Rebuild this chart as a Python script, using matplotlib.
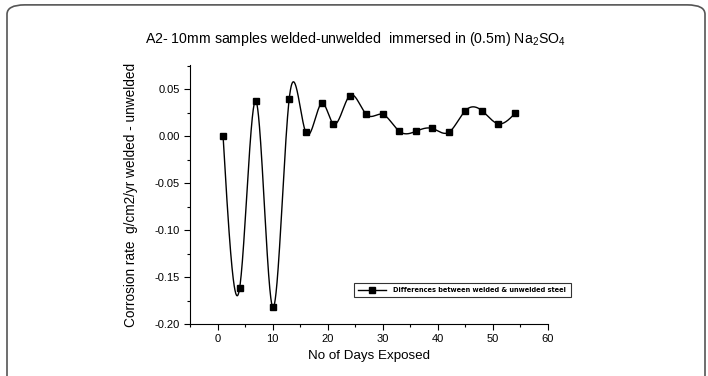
import numpy as np
import matplotlib
matplotlib.use("Agg")
import matplotlib.pyplot as plt
from matplotlib.patches import FancyBboxPatch
from matplotlib.lines import Line2D
from matplotlib.ticker import MultipleLocator, FormatStrFormatter

days = [1, 4, 7, 10, 13, 16, 19, 21, 24, 27, 30, 33, 36, 39, 42, 45, 48, 51, 54]
diff = [0.000, -0.162, 0.037, -0.182, 0.039, 0.004, 0.035, 0.013, 0.043, 0.023,
        0.023, 0.005, 0.005, 0.008, 0.004, 0.027, 0.027, 0.013, 0.024]

title = "A2- 10mm samples welded-unwelded  immersed in (0.5m) Na$_2$SO$_4$"
xlabel = "No of Days Exposed"
ylabel = "Corrosion rate  g/cm2/yr welded - unwelded"
legend_label = "Differences between welded & unwelded steel"


def natural_spline(x, y, n=1500):
    x = np.asarray(x, float)
    y = np.asarray(y, float)
    m = len(x)
    h = np.diff(x)
    A = np.zeros((m, m))
    b = np.zeros(m)
    A[0, 0] = 1
    A[-1, -1] = 1
    for i in range(1, m - 1):
        A[i, i - 1] = h[i - 1]
        A[i, i] = 2 * (h[i - 1] + h[i])
        A[i, i + 1] = h[i]
        b[i] = 3 * ((y[i + 1] - y[i]) / h[i] - (y[i] - y[i - 1]) / h[i - 1])
    c = np.linalg.solve(A, b)
    bb = (y[1:] - y[:-1]) / h - h * (2 * c[:-1] + c[1:]) / 3
    d = (c[1:] - c[:-1]) / (3 * h)
    xs = np.linspace(x[0], x[-1], n)
    idx = np.clip(np.searchsorted(x, xs) - 1, 0, m - 2)
    dx = xs - x[idx]
    ys = y[idx] + bb[idx] * dx + c[idx] * dx ** 2 + d[idx] * dx ** 3
    return xs, ys


plt.rcParams['font.family'] = ['Liberation Sans', 'DejaVu Sans']
plt.rcParams['mathtext.fontset'] = 'custom'
plt.rcParams['mathtext.rm'] = 'Liberation Sans'

fig = plt.figure(figsize=(7.08, 3.76), dpi=100)
ax = fig.add_axes([0.2684, 0.1383, 0.5056, 0.6887])

xs, ys = natural_spline(days, diff)
ax.plot(xs, ys, color='black', lw=1.0)
ax.plot(days, diff, 's', color='black', markersize=5, linestyle='none')

ax.set_xlim(-5, 60)
ax.set_ylim(-0.2, 0.0755)
ax.set_xticks([0, 10, 20, 30, 40, 50, 60])
ax.set_yticks([-0.20, -0.15, -0.10, -0.05, 0.00, 0.05])
ax.xaxis.set_minor_locator(MultipleLocator(5))
ax.yaxis.set_minor_locator(MultipleLocator(0.025))
ax.yaxis.set_major_formatter(FormatStrFormatter('%.2f'))
ax.spines['top'].set_visible(False)
ax.spines['right'].set_visible(False)
ax.tick_params(which='major', direction='out', length=4, width=0.8, labelsize=8)
ax.tick_params(which='minor', direction='out', length=2.5, width=0.8)

ax.set_xlabel(xlabel, fontsize=9.6, labelpad=4)
ax.set_ylabel(ylabel, fontsize=9.8, labelpad=12)
fig.text(0.5014, 0.897, title, ha='center', va='center', fontsize=10.2)

handle = Line2D([], [], color='black', lw=1.0, marker='s', markersize=5)
leg = ax.legend([handle], [legend_label], loc='upper left',
                bbox_to_anchor=(354 / 708, 1 - 303 / 376, 217 / 708, 20 / 376),
                bbox_transform=fig.transFigure, mode='expand',
                prop={'family': 'DejaVu Sans', 'weight': 'bold', 'size': 4.8},
                frameon=True, fancybox=False, edgecolor='black',
                handlelength=4.2, handletextpad=1.0, borderpad=0.6,
                borderaxespad=0)
leg.get_frame().set_linewidth(0.8)

border = FancyBboxPatch((7 / 708, -0.05), 698 / 708, 1.037,
                        boxstyle="round,pad=0,rounding_size=0.025",
                        transform=fig.transFigure, fill=False,
                        edgecolor='#555555', lw=1.2)
fig.patches.append(border)

fig.savefig('out.png', dpi=100)
